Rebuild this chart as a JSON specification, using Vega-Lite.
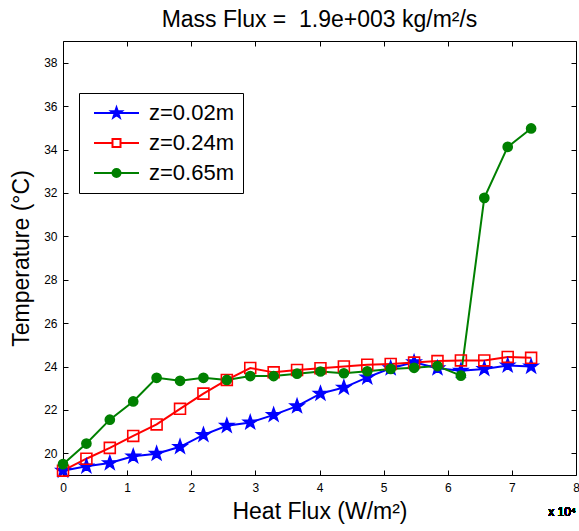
{
  "$schema": "https://vega.github.io/schema/vega-lite/v6.json",
  "width": 513,
  "height": 434,
  "autosize": "none",
  "padding": {"left": 63, "top": 41, "right": 3, "bottom": 56},
  "background": "white",
  "title": {"text": "Mass Flux = \u00a01.9e+003 kg/m²/s", "fontSize": 23, "fontWeight": "normal", "font": "Liberation Sans", "color": "black", "offset": 9, "anchor": "middle"},
  "config": {
    "view": {"stroke": "black", "strokeWidth": 1},
    "font": "Liberation Sans",
    "axis": {"grid": false, "domain": false, "tickColor": "black", "tickWidth": 1, "labelColor": "black", "labelFontSize": 12, "titleColor": "black", "titleFontSize": 23, "titleFontWeight": "normal", "labelFont": "Liberation Sans", "titleFont": "Liberation Sans", "labelFlush": false}
  },
  "data": {"values": [
    {"series": "z=0.02m", "x": 0, "T": 19.2},
    {"series": "z=0.02m", "x": 3650, "T": 19.4},
    {"series": "z=0.02m", "x": 7300, "T": 19.55},
    {"series": "z=0.02m", "x": 10950, "T": 19.86},
    {"series": "z=0.02m", "x": 14600, "T": 19.98},
    {"series": "z=0.02m", "x": 18250, "T": 20.3},
    {"series": "z=0.02m", "x": 21900, "T": 20.85},
    {"series": "z=0.02m", "x": 25550, "T": 21.27},
    {"series": "z=0.02m", "x": 29200, "T": 21.42},
    {"series": "z=0.02m", "x": 32850, "T": 21.77},
    {"series": "z=0.02m", "x": 36500, "T": 22.17},
    {"series": "z=0.02m", "x": 40150, "T": 22.75},
    {"series": "z=0.02m", "x": 43800, "T": 23.03},
    {"series": "z=0.02m", "x": 47450, "T": 23.5},
    {"series": "z=0.02m", "x": 51100, "T": 23.92},
    {"series": "z=0.02m", "x": 54750, "T": 24.2},
    {"series": "z=0.02m", "x": 58400, "T": 23.92},
    {"series": "z=0.02m", "x": 62050, "T": 23.81},
    {"series": "z=0.02m", "x": 65700, "T": 23.89},
    {"series": "z=0.02m", "x": 69350, "T": 24.05},
    {"series": "z=0.02m", "x": 73000, "T": 24.0},
    {"series": "z=0.24m", "x": 0, "T": 19.2},
    {"series": "z=0.24m", "x": 3650, "T": 19.75},
    {"series": "z=0.24m", "x": 7300, "T": 20.25},
    {"series": "z=0.24m", "x": 10950, "T": 20.8},
    {"series": "z=0.24m", "x": 14600, "T": 21.33},
    {"series": "z=0.24m", "x": 18250, "T": 22.05},
    {"series": "z=0.24m", "x": 21900, "T": 22.75},
    {"series": "z=0.24m", "x": 25550, "T": 23.38},
    {"series": "z=0.24m", "x": 29200, "T": 23.93},
    {"series": "z=0.24m", "x": 32850, "T": 23.73},
    {"series": "z=0.24m", "x": 36500, "T": 23.84},
    {"series": "z=0.24m", "x": 40150, "T": 23.92},
    {"series": "z=0.24m", "x": 43800, "T": 24.0},
    {"series": "z=0.24m", "x": 47450, "T": 24.08},
    {"series": "z=0.24m", "x": 51100, "T": 24.12},
    {"series": "z=0.24m", "x": 54750, "T": 24.18},
    {"series": "z=0.24m", "x": 58400, "T": 24.25},
    {"series": "z=0.24m", "x": 62050, "T": 24.28},
    {"series": "z=0.24m", "x": 65700, "T": 24.28},
    {"series": "z=0.24m", "x": 69350, "T": 24.44},
    {"series": "z=0.24m", "x": 73000, "T": 24.4},
    {"series": "z=0.65m", "x": 0, "T": 19.5},
    {"series": "z=0.65m", "x": 3650, "T": 20.45},
    {"series": "z=0.65m", "x": 7300, "T": 21.55},
    {"series": "z=0.65m", "x": 10950, "T": 22.39},
    {"series": "z=0.65m", "x": 14600, "T": 23.48},
    {"series": "z=0.65m", "x": 18250, "T": 23.34},
    {"series": "z=0.65m", "x": 21900, "T": 23.48},
    {"series": "z=0.65m", "x": 25550, "T": 23.38},
    {"series": "z=0.65m", "x": 29200, "T": 23.56},
    {"series": "z=0.65m", "x": 32850, "T": 23.56},
    {"series": "z=0.65m", "x": 36500, "T": 23.67},
    {"series": "z=0.65m", "x": 40150, "T": 23.77},
    {"series": "z=0.65m", "x": 43800, "T": 23.69},
    {"series": "z=0.65m", "x": 47450, "T": 23.78},
    {"series": "z=0.65m", "x": 51100, "T": 23.89},
    {"series": "z=0.65m", "x": 54750, "T": 23.94},
    {"series": "z=0.65m", "x": 58400, "T": 24.02},
    {"series": "z=0.65m", "x": 62050, "T": 23.58},
    {"series": "z=0.65m", "x": 65700, "T": 31.77},
    {"series": "z=0.65m", "x": 69350, "T": 34.12},
    {"series": "z=0.65m", "x": 73000, "T": 34.97}
  ]},
  "layer": [
    {
      "mark": {"type": "line", "strokeWidth": 2},
      "encoding": {
        "x": {"field": "x", "type": "quantitative", "scale": {"domain": [0, 80000], "nice": false, "zero": false},
          "axis": {"orient": "bottom", "values": [0, 10000, 20000, 30000, 40000, 50000, 60000, 70000, 80000], "labelExpr": "datum.value / 10000", "title": "Heat Flux (W/m²)", "tickSize": -5, "labelPadding": 12, "titlePadding": 7}},
        "y": {"field": "T", "type": "quantitative", "scale": {"domain": [19, 39], "nice": false, "zero": false},
          "axis": {"orient": "left", "values": [20, 22, 24, 26, 28, 30, 32, 34, 36, 38], "title": "Temperature (°C)", "tickSize": -5, "labelPadding": 11, "titlePadding": 10}},
        "color": {"field": "series", "type": "nominal",
          "scale": {"domain": ["z=0.02m", "z=0.24m", "z=0.65m"], "range": ["#0000ff", "#ff0000", "#008000"]},
          "legend": {
            "orient": "none", "legendX": 16, "legendY": 52, "title": null,
            "strokeColor": "black", "fillColor": "white", "padding": 9,
            "labelFontSize": 22, "labelFont": "Liberation Sans", "labelColor": "black", "labelLimit": 0,
            "symbolSize": 100, "labelOffset": 39, "rowPadding": 8, "symbolStrokeWidth": 2,
            "encoding": {"symbols": {
              "shape": {"condition": [
                {"test": "datum.value === 'z=0.02m'", "value": "M-1,0L8,0M3.5,-1.1L3.759,-0.356L4.546,-0.34L3.918,0.136L4.147,0.89L3.5,0.44L2.853,0.89L3.082,0.136L2.454,-0.34L3.241,-0.356Z"},
                {"test": "datum.value === 'z=0.24m'", "value": "M-1,0L2.7,0M4.3,0L8,0M2.7,-0.8L4.3,-0.8L4.3,0.8L2.7,0.8Z"}],
                "value": "M-1,0L8,0M4.3,0A0.8,0.8 0 1,1 2.7,0A0.8,0.8 0 1,1 4.3,0Z"},
              "fill": {"condition": [
                {"test": "datum.value === 'z=0.02m'", "value": "#0000ff"},
                {"test": "datum.value === 'z=0.24m'", "value": "transparent"}],
                "value": "#008000"},
              "stroke": {"condition": [
                {"test": "datum.value === 'z=0.02m'", "value": "#0000ff"},
                {"test": "datum.value === 'z=0.24m'", "value": "#ff0000"}],
                "value": "#008000"},
              "size": {"value": 100},
              "strokeWidth": {"value": 2},
              "opacity": {"value": 1}
            }}
          }}
      }
    },
    {
      "mark": {"type": "point", "size": 196, "strokeWidth": 1.6, "filled": true, "opacity": 1, "fillOpacity": 1},
      "encoding": {
        "x": {"field": "x", "type": "quantitative", "axis": {"orient": "top", "labels": false, "title": null, "tickSize": -5, "values": [0, 10000, 20000, 30000, 40000, 50000, 60000, 70000, 80000]}},
        "y": {"field": "T", "type": "quantitative", "axis": {"orient": "right", "labels": false, "title": null, "tickSize": -5, "values": [20, 22, 24, 26, 28, 30, 32, 34, 36, 38]}},
        "shape": {"field": "series", "type": "nominal",
          "scale": {"domain": ["z=0.65m", "z=0.24m", "z=0.02m"], "range": ["M0.65,0A0.65,0.65 0 1,1 -0.65,0A0.65,0.65 0 1,1 0.65,0Z", "M-0.78,-0.78L0.78,-0.78L0.78,0.78L-0.78,0.78Z", "M0,-1L0.235,-0.324L0.951,-0.309L0.38,0.124L0.588,0.809L0,0.4L-0.588,0.809L-0.38,0.124L-0.951,-0.309L-0.235,-0.324Z"]},
          "legend": null},
        "stroke": {"field": "series", "type": "nominal",
          "scale": {"domain": ["z=0.65m", "z=0.24m", "z=0.02m"], "range": ["#008000", "#ff0000", "#0000ff"]}, "legend": null},
        "fill": {"field": "series", "type": "nominal",
          "scale": {"domain": ["z=0.65m", "z=0.24m", "z=0.02m"], "range": ["#008000", "transparent", "#0000ff"]}, "legend": null}
      }
    },
    {
      "mark": {"type": "text", "align": "right", "baseline": "alphabetic", "dy": 41, "fontSize": 12, "color": "black", "font": "Liberation Sans", "fontWeight": "normal"},
      "encoding": {
        "x": {"datum": 80000, "type": "quantitative", "axis": null},
        "y": {"datum": 19, "type": "quantitative", "axis": null},
        "text": {"value": "x 10⁴"}
      }
    }
  ],
  "resolve": {"axis": {"x": "independent", "y": "independent"}}
}
